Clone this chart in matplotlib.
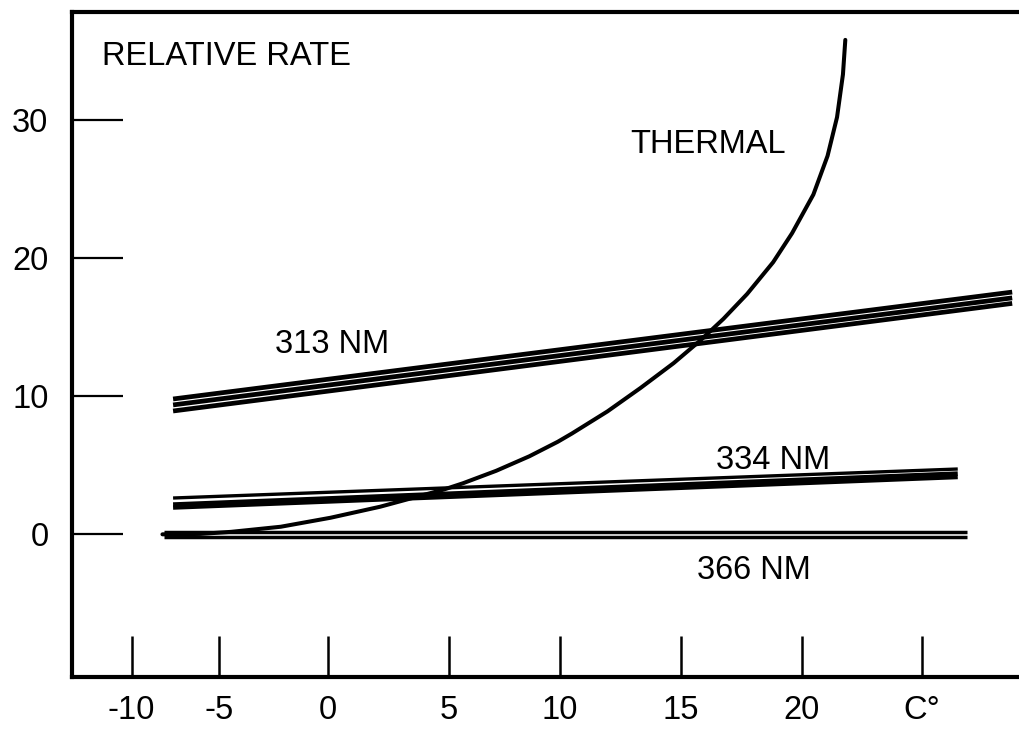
import matplotlib
matplotlib.use("Agg")
import matplotlib.pyplot as plt

plt.rcParams["font.family"] = ["Liberation Sans", "DejaVu Sans"]

# Thermal degradation rate versus temperature (deg C)
thermal_temp = [-7.0, -5.4, -4.1, -2.0, 0.1, 2.2, 3.6, 4.9, 5.7, 7.1, 8.5, 9.7,
                10.3, 11.8, 13.2, 14.6, 15.7, 16.7, 17.7, 18.8, 19.6, 20.5,
                21.1, 21.5, 21.75, 21.85]
thermal_rate = [0.0, 0.03, 0.18, 0.55, 1.20, 2.00, 2.65, 3.25, 3.70, 4.60, 5.65,
                6.70, 7.30, 8.90, 10.60, 12.40, 14.00, 15.60, 17.40, 19.70,
                21.80, 24.60, 27.40, 30.20, 33.30, 35.80]

# Photochemical rates at three wavelengths (replicate runs per wavelength)
nm313_temp = [-6.55, 28.9]
nm313_run_a = [9.80, 17.54]
nm313_run_b = [9.37, 17.12]
nm313_run_c = [8.93, 16.72]

nm334_temp = [-6.55, 26.6]
nm334_run_a = [2.63, 4.73]
nm334_run_b = [2.16, 4.40]
nm334_run_c = [1.94, 4.15]

nm366_temp = [-6.95, 27.0]
nm366_run_a = [0.20, 0.20]
nm366_run_b = [-0.16, -0.16]

x_tick_at = [-8.3, -4.6, 0.0, 5.1, 9.8, 14.9, 20.0, 25.1]
x_tick_labels = ["-10", "-5", "0", "5", "10", "15", "20", "C\u00b0"]
y_ticks = [0, 10, 20, 30]
y_tick_labels = ["0", "10", "20", "30"]

fig = plt.figure(figsize=(10.2, 7.35), dpi=100)
ax = fig.add_axes([0.0706, 0.0789, 0.9294, 0.9048])
ax.set_xlim(-10.82, 29.23)
ax.set_ylim(-10.33, 37.82)

# Wavelength bands: closely spaced replicate lines
for ys in (nm313_run_a, nm313_run_b, nm313_run_c):
    ax.plot(nm313_temp, ys, color="black", lw=3.4, solid_capstyle="butt", zorder=2)
ax.plot(nm334_temp, nm334_run_a, color="black", lw=2.4, solid_capstyle="butt", zorder=2)
for ys in (nm334_run_b, nm334_run_c):
    ax.plot(nm334_temp, ys, color="black", lw=3.2, solid_capstyle="butt", zorder=2)
for ys in (nm366_run_a, nm366_run_b):
    ax.plot(nm366_temp, ys, color="black", lw=2.5, solid_capstyle="butt", zorder=2)

# Thermal curve on top
ax.plot(thermal_temp, thermal_rate, color="black", lw=2.9,
        solid_capstyle="round", solid_joinstyle="round", zorder=3)

txt = dict(fontsize=23.5, color="black", ha="left", va="baseline")
ax.text(-9.55, 33.98, "RELATIVE RATE", **txt)
ax.text(12.75, 27.61, "THERMAL", **txt)
ax.text(-2.24, 13.13, "313 NM", **txt)
ax.text(16.39, 4.73, "334 NM", **txt)
ax.text(15.59, -3.24, "366 NM", **txt)

ax.set_xticks(x_tick_at)
ax.set_xticklabels(x_tick_labels)
ax.set_yticks(y_ticks)
ax.set_yticklabels(y_tick_labels)
ax.tick_params(axis="x", direction="in", length=29.5, width=1.8, pad=13,
               labelsize=23.5, colors="black")
ax.tick_params(axis="y", direction="in", length=36.7, width=1.6, pad=17,
               labelsize=23.5, colors="black")

for side in ("left", "top", "bottom"):
    ax.spines[side].set_linewidth(3.0)
    ax.spines[side].set_color("black")
ax.spines["right"].set_visible(False)

fig.savefig("out.png", dpi=100)
